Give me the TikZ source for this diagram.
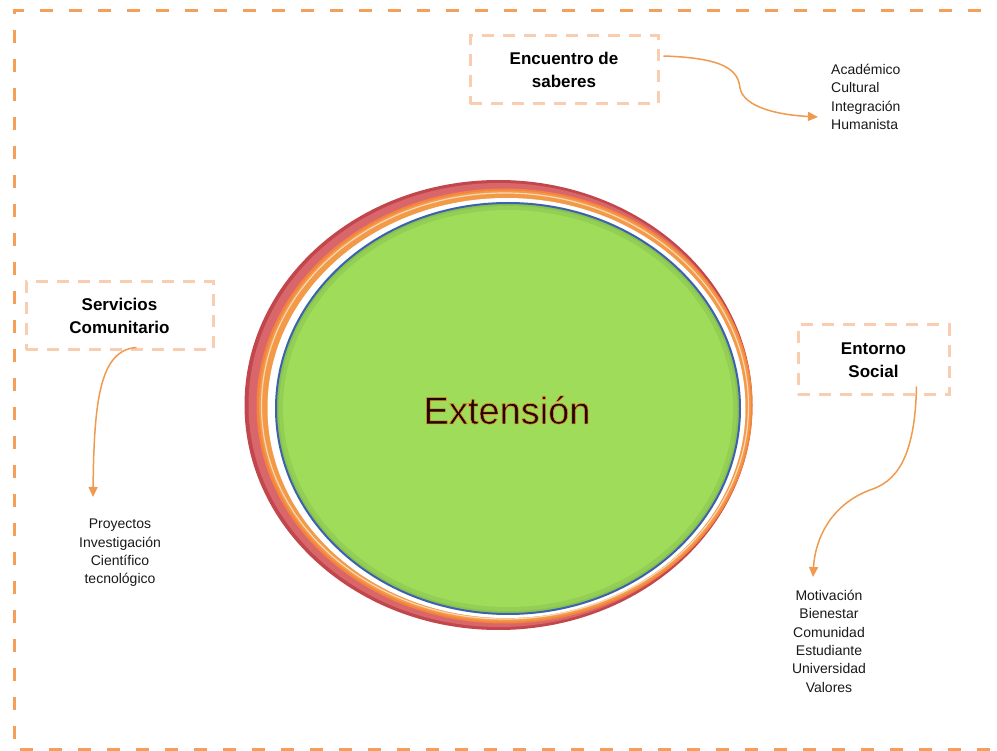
\documentclass[tikz,border=0pt]{standalone}
\usepackage{fontspec}
\setmainfont{Liberation Sans}
\usetikzlibrary{arrows.meta,calc}
\definecolor{frameor}{HTML}{F5A05A}
\definecolor{boxpeach}{HTML}{F9CDB0}
\definecolor{arrowor}{HTML}{F09A50}
\definecolor{ringred}{HTML}{D9666A}
\definecolor{ringredd}{HTML}{C2474C}
\definecolor{ringor}{HTML}{F29A48}
\definecolor{ringblue}{HTML}{3B62AE}
\definecolor{fillgreen}{HTML}{9EDC5A}
\definecolor{txtdark}{HTML}{1E0800}
\tikzset{
  titlebox/.style={draw=boxpeach, line width=3pt, dash pattern=on 12pt off 9pt,
    align=center, font=\fontsize{17}{23}\selectfont\bfseries, text=black, inner sep=0pt},
  listtxt/.style={font=\fontsize{14}{18.3}\selectfont, text=black!90, inner sep=0pt},
  flowarrow/.style={draw=arrowor, line width=1.5pt, -{Triangle[length=10pt,width=9pt]}},
}
\newcommand{\outlinedtext}[1]{\special{pdf:literal direct 2 Tr 0.6 w 0.93 0.55 0.18 RG}#1\special{pdf:literal direct 0 Tr}}
\begin{document}
\begin{tikzpicture}[x=1pt,y=-1pt]
\useasboundingbox (0,0) rectangle (997,751);
% outer frame
\draw[frameor, line width=3pt, dash pattern=on 13pt off 16pt] (1010,11) -- (14,11) -- (14,749) -- (1010,749);
% central ellipse layers
\fill[ringredd] (498.5,405) ellipse [x radius=254, y radius=225];
\fill[ringred] (499.5,405) ellipse [x radius=251, y radius=222];
\fill[ringor!85!red] (504.5,406) ellipse [x radius=248, y radius=217.5];
\fill[ringor] (505,406) ellipse [x radius=246, y radius=215.5];
\draw[white!60!ringor, line width=1.2pt] (505,406) ellipse [x radius=243.5, y radius=213];
\fill[white] (506.5,408) ellipse [x radius=239, y radius=210];
\fill[fillgreen!88!black] (508,408.5) ellipse [x radius=232, y radius=205.5];
\fill[fillgreen!94!black] (508,408.5) ellipse [x radius=229, y radius=202.5];
\fill[fillgreen] (508,408.5) ellipse [x radius=225, y radius=198.5];
\draw[ringblue, line width=2pt] (508,408.5) ellipse [x radius=232, y radius=205.5];
\node[inner sep=0pt, text=txtdark, font=\fontsize{38}{40}\selectfont] (ext) at (507,410) {\outlinedtext{Extensión}};
% boxes
\node[titlebox, minimum width=188pt, minimum height=68pt] (enc) at (564,70) {Encuentro de\\saberes};
\node[titlebox, minimum width=187pt, minimum height=68pt] (serv) at (119.5,316) {Servicios\\Comunitario};
\node[titlebox, minimum width=151pt, minimum height=70pt] (ent) at (873.5,360) {Entorno\\Social};
% lists
\node[listtxt, align=left, anchor=north west] (encl) at (831,64) {Académico\\Cultural\\Integración\\Humanista};
\node[listtxt, align=center, anchor=north] (servl) at (120,519) {Proyectos\\Investigación\\Científico\\tecnológico};
\node[listtxt, align=center, anchor=north] (entl) at (829,590) {Motivación\\Bienestar\\Comunidad\\Estudiante\\Universidad\\Valores};
% arrow end coordinates
\coordinate (encend) at (818,117);
\coordinate (servend) at (93,497);
\coordinate (entend) at (813,577);
% arrows
\draw[flowarrow] ([shift={(4,-14)}]enc.east) .. controls (725,58) and (738,70) .. (740,88)
   .. controls (744,108) and (780,115) .. (encend);
\draw[flowarrow] ([shift={(17,-4)}]serv.south) .. controls (100,350) and (94,400) .. (servend);
\draw[flowarrow] ([shift={(43,-10)}]ent.south) .. controls (915,460) and (895,482) .. (870,490)
   .. controls (830,505) and (815,540) .. (entend);
\end{tikzpicture}
\end{document}
